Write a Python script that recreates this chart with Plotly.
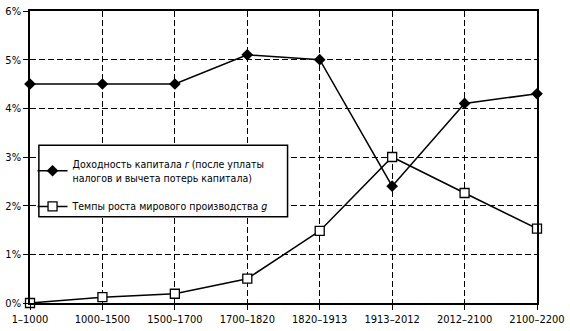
import plotly.graph_objects as go

periods = ["1–1000", "1000–1500", "1500–1700", "1700–1820", "1820–1913",
           "1913–2012", "2012–2100", "2100–2200"]
r_values = [4.5, 4.5, 4.5, 5.1, 5.0, 2.4, 4.1, 4.3]
g_values = [0.0, 0.12, 0.19, 0.5, 1.48, 3.0, 2.26, 1.53]
y_ticks = [0, 1, 2, 3, 4, 5, 6]
y_tick_labels = ["0%", "1%", "2%", "3%", "4%", "5%", "6%"]

r_name = "Доходность капитала <i>r</i> (после уплаты<br>налогов и вычета потерь капитала)"
g_name = "Темпы роста мирового производства <i>g</i>"

FONT = "DejaVu Sans Condensed, Liberation Sans Narrow, sans-serif"

fig = go.Figure()
fig.add_trace(go.Scatter(
    x=periods, y=r_values, name=r_name, mode="lines+markers",
    legendgroup="r",
    line=dict(color="black", width=1.5),
    marker=dict(symbol="diamond", size=9, color="black"),
    cliponaxis=False,
))
fig.add_trace(go.Scatter(
    x=periods, y=g_values, name=g_name, mode="lines+markers",
    legendgroup="g",
    line=dict(color="black", width=1.5),
    marker=dict(symbol="square", size=9, color="white",
                line=dict(color="black", width=1.3)),
    cliponaxis=False,
))

# legend box (drawn as a shape so its size matches the original)
fig.add_shape(type="rect", xref="paper", yref="paper",
              x0=0.0175, x1=0.508, y0=0.2957, y1=0.5405,
              fillcolor="white", line=dict(color="black", width=1.5),
              layer="above")

fig.update_layout(
    width=570, height=331,
    margin=dict(l=28, r=26, t=5, b=25),
    paper_bgcolor="white", plot_bgcolor="white",
    font=dict(family=FONT, size=11, color="black"),
    showlegend=True,
    legend=dict(
        x=0.005, y=0.522, xanchor="left", yanchor="top",
        bgcolor="rgba(0,0,0,0)", borderwidth=0,
        font=dict(family=FONT, size=10.5, color="black"),
        traceorder="grouped", tracegroupgap=11, itemwidth=30,
    ),
    xaxis=dict(
        type="category", range=[0, 7],
        showline=True, linecolor="black", linewidth=1.5, mirror=True,
        showgrid=True, gridcolor="black", gridwidth=1.4, griddash="6px,3px",
        ticks="outside", ticklen=5, tickcolor="black", tickwidth=1.3,
        tickfont=dict(family=FONT, size=11),
        zeroline=False,
    ),
    yaxis=dict(
        range=[0, 6], tickvals=y_ticks, ticktext=y_tick_labels,
        showline=True, linecolor="black", linewidth=1.5, mirror=True,
        showgrid=True, gridcolor="black", gridwidth=1.4, griddash="6px,3px",
        ticks="outside", ticklen=5, tickcolor="black", tickwidth=1.3,
        tickfont=dict(family=FONT, size=11),
        zeroline=False,
    ),
)

fig.write_html("out.html")
